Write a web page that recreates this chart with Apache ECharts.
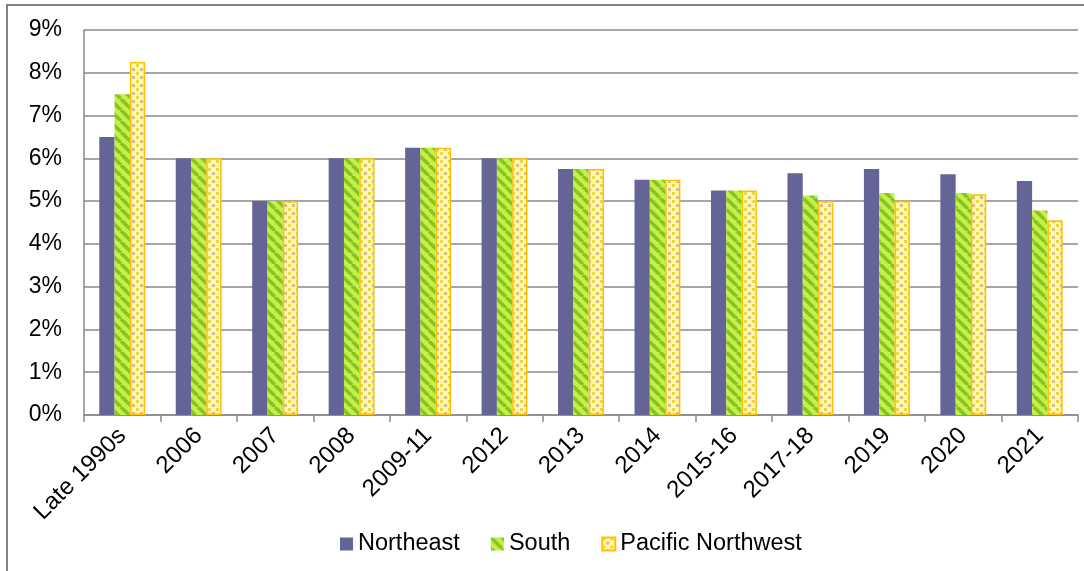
<!DOCTYPE html>
<html>
<head>
<meta charset="utf-8">
<script src="https://cdn.jsdelivr.net/npm/echarts@6/dist/echarts.min.js"></script>
<style>
  html, body { margin: 0; padding: 0; background: #fff; }
  #chart { width: 1084px; height: 571px; }
</style>
</head>
<body>
<div id="chart"></div>
<script>
// Survey periods on the x axis
const categories = ['Late 1990s', '2006', '2007', '2008', '2009-11', '2012', '2013',
  '2014', '2015-16', '2017-18', '2019', '2020', '2021'];

// Rates by region, in percent
const northeast = [6.5, 6, 5, 6, 6.25, 6, 5.75, 5.5, 5.25, 5.65, 5.75, 5.63, 5.47];
const south = [7.5, 6, 5, 6, 6.25, 6, 5.75, 5.5, 5.25, 5.13, 5.19, 5.19, 4.78];
const pacificNorthwest = [8.25, 6, 5, 6, 6.25, 6, 5.75, 5.5, 5.25, 5.0, 5.01, 5.16, 4.55];

const seriesNames = ['Northeast', 'South', 'Pacific Northwest'];

// Diagonal green stripes fill
function stripePattern() {
  const c = document.createElement('canvas');
  c.width = 11; c.height = 11;
  const g = c.getContext('2d');
  g.fillStyle = '#c6ef4c';
  g.fillRect(0, 0, 11, 11);
  g.strokeStyle = '#86c420';
  g.lineWidth = 3.5;
  for (let k = -11; k <= 22; k += 11) {
    g.beginPath();
    g.moveTo(k, 0);
    g.lineTo(k + 11, 11);
    g.stroke();
  }
  return c;
}

// Pale yellow fill with small speckles
function dotPattern() {
  const c = document.createElement('canvas');
  c.width = 8; c.height = 8;
  const g = c.getContext('2d');
  g.fillStyle = '#fff8b0';
  g.fillRect(0, 0, 8, 8);
  g.fillStyle = '#efd444';
  g.fillRect(0, 0, 3, 3);
  g.fillStyle = '#d8bd86';
  g.fillRect(4, 4, 3, 3);
  return c;
}

const chart = echarts.init(document.getElementById('chart'), null, { renderer: 'canvas' });

const font = 'Liberation Sans, Arial, sans-serif';

chart.setOption({
  animation: false,
  backgroundColor: '#fff',
  graphic: [{
    type: 'rect',
    shape: { x: 7, y: 5, width: 1200, height: 700 },
    style: { fill: 'none', stroke: '#5a5a5a', lineWidth: 1.5 },
    silent: true
  }],
  grid: { left: 84, right: 6, top: 30, bottom: 156, containLabel: false },
  legend: {
    top: 527,
    left: 335,
    itemWidth: 13,
    itemHeight: 13,
    itemGap: 31,
    icon: 'rect',
    textStyle: { fontFamily: font, fontSize: 23.5, color: '#000' },
    data: seriesNames
  },
  xAxis: {
    type: 'category',
    data: categories,
    axisLine: { show: true, lineStyle: { color: '#8a8a8a', width: 1.5 } },
    axisTick: { show: true, alignWithLabel: false, length: 7, lineStyle: { color: '#8a8a8a', width: 1.5 } },
    axisLabel: { rotate: 45, margin: 17, fontFamily: font, fontSize: 24, color: '#000', interval: 0 }
  },
  yAxis: {
    type: 'value',
    min: 0,
    max: 9,
    interval: 1,
    axisLine: { show: true, lineStyle: { color: '#8a8a8a', width: 1.5 } },
    axisTick: { show: false },
    splitLine: { show: true, lineStyle: { color: '#8a8a8a', width: 1.5 } },
    axisLabel: { formatter: '{value}%', margin: 22, fontFamily: font, fontSize: 23, color: '#000' }
  },
  series: [
    {
      name: seriesNames[0],
      type: 'bar',
      data: northeast,
      barGap: '0%',
      barCategoryGap: '40%',
      itemStyle: { color: '#646496' }
    },
    {
      name: seriesNames[1],
      type: 'bar',
      data: south,
      barGap: '0%',
      barCategoryGap: '40%',
      itemStyle: { color: { image: stripePattern(), repeat: 'repeat' } }
    },
    {
      name: seriesNames[2],
      type: 'bar',
      data: pacificNorthwest,
      barGap: '0%',
      barCategoryGap: '40%',
      itemStyle: {
        color: { image: dotPattern(), repeat: 'repeat' },
        borderColor: '#ffc000',
        borderWidth: 1.5
      }
    }
  ]
});
</script>
</body>
</html>
